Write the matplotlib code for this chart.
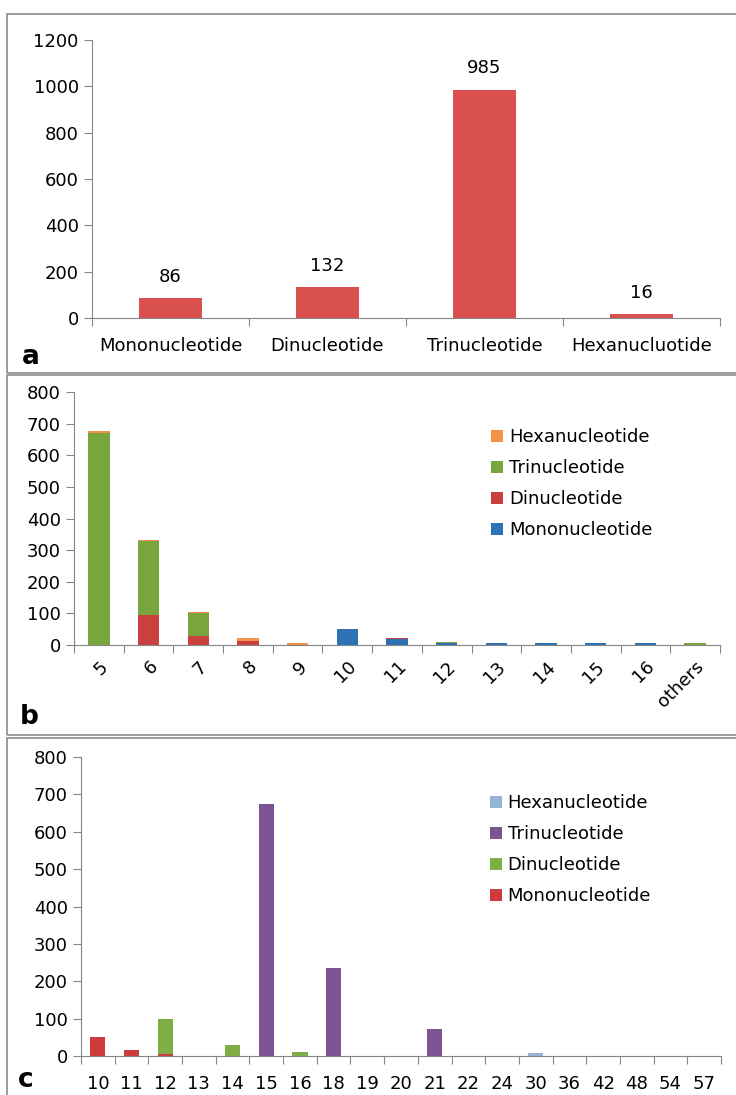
''' SSR summary figure: motif types, repeat numbers, lengths '''
#%% import
import numpy as np
import matplotlib.pyplot as plt
from matplotlib.patches import Rectangle

plt.rcParams['font.family'] = ['DejaVu Sans']

#%% data
a_cats = ['Mononucleotide', 'Dinucleotide', 'Trinucleotide', 'Hexanucluotide']
a_vals = [86, 132, 985, 16]

b_cats = ['5', '6', '7', '8', '9', '10', '11', '12', '13', '14', '15', '16', 'others']
b_mono = [0, 0, 0, 0, 0, 50, 20, 5, 5, 5, 5, 5, 0]
b_di = [0, 95, 30, 12, 0, 0, 3, 0, 0, 0, 0, 0, 0]
b_tri = [670, 235, 70, 0, 0, 0, 0, 6, 0, 0, 0, 0, 5]
b_hexa = [8, 3, 5, 10, 5, 0, 0, 0, 0, 0, 0, 0, 0]

c_cats = ['10', '11', '12', '13', '14', '15', '16', '18', '19', '20',
          '21', '22', '24', '30', '36', '42', '48', '54', '57']
c_mono = [50, 17, 5, 0, 0, 0, 0, 0, 0, 0, 0, 0, 0, 0, 0, 0, 0, 0, 0]
c_di = [0, 0, 95, 0, 30, 0, 12, 0, 0, 0, 0, 0, 0, 0, 0, 0, 0, 0, 0]
c_tri = [0, 0, 0, 0, 0, 675, 0, 235, 0, 0, 73, 0, 0, 0, 0, 0, 0, 0, 0]
c_hexa = [0, 0, 0, 0, 0, 0, 0, 0, 0, 0, 0, 0, 0, 7, 0, 0, 0, 0, 0]

W, H = 736, 1095
fig = plt.figure(figsize=(W/100, H/100), dpi=100)

def px_axes(x0, x1, ytop, ybot):
    return fig.add_axes([x0/W, 1-ybot/H, (x1-x0)/W, (ybot-ytop)/H])

def style(ax, n, ymax, ystep):
    for s in ['top', 'right']:
        ax.spines[s].set_visible(False)
    for s in ['left', 'bottom']:
        ax.spines[s].set_color('#868686')
    ax.set_xlim(-0.5, n-0.5)
    ax.set_ylim(0, ymax)
    ax.set_yticks(np.arange(0, ymax+1, ystep))
    ax.set_xticks(np.arange(-0.5, n, 1.0))
    ax.set_xticklabels([])
    ax.tick_params(axis='both', colors='#868686', labelcolor='black', labelsize=13, length=6)
    ax.tick_params(axis='x', which='minor', length=0)

# panel boxes
for ytop, ybot in [(14, 373), (375, 735), (738, 1100)]:
    fig.patches.append(Rectangle((7/W, 1-ybot/H), 740/W, (ybot-ytop)/H,
                                 transform=fig.transFigure, fill=False,
                                 edgecolor='#8c8c8c', lw=1.2))

# %% panel a
ax = px_axes(92, 720, 40, 318)
x = np.arange(len(a_cats))
bars = ax.bar(x, a_vals, width=0.4, color='#D9504E')
for b, v in zip(bars, a_vals):
    ax.annotate(str(v), (b.get_x()+b.get_width()/2, v), xytext=(0, 9),
                textcoords='offset points', ha='center', va='bottom', fontsize=13)
style(ax, len(a_cats), 1200, 200)
ax.set_xticks(x, minor=True)
ax.set_xticklabels(a_cats, minor=True, fontsize=13)
ax.tick_params(axis='x', which='minor', pad=14)
fig.text(22/W, 1-357/H, 'a', fontsize=19, fontweight='bold', va='center')

# %% panel b
ax = px_axes(74, 720, 392, 645)
x = np.arange(len(b_cats))
bw = 0.43
m = np.array(b_mono); d = np.array(b_di); t = np.array(b_tri); h = np.array(b_hexa)
ax.bar(x, m, width=bw, color='#2C72B4', label='Mononucleotide')
ax.bar(x, d, width=bw, bottom=m, color='#C9403F', label='Dinucleotide')
ax.bar(x, t, width=bw, bottom=m+d, color='#78A53C', label='Trinucleotide')
ax.bar(x, h, width=bw, bottom=m+d+t, color='#F59145', label='Hexanucleotide')
style(ax, len(b_cats), 800, 100)
ax.set_xticks(x, minor=True)
ax.set_xticklabels(b_cats, minor=True, fontsize=13, rotation=45, ha='right',
                   rotation_mode='anchor')
ax.tick_params(axis='x', which='minor', pad=9)
hh, ll = ax.get_legend_handles_labels()
ax.legend(hh[::-1], ll[::-1], loc='upper left', bbox_to_anchor=(0.62, 0.92),
          frameon=False, fontsize=13, handlelength=0.7, handleheight=0.7,
          handletextpad=0.3, labelspacing=0.72)
fig.text(20/W, 1-717/H, 'b', fontsize=19, fontweight='bold', va='center')

# %% panel c
ax = px_axes(81, 721, 757, 1056)
x = np.arange(len(c_cats))
bw = 0.45
m = np.array(c_mono); d = np.array(c_di); t = np.array(c_tri); h = np.array(c_hexa)
ax.bar(x, m, width=bw, color='#CF3B3B', label='Mononucleotide')
ax.bar(x, d, width=bw, bottom=m, color='#7FAF44', label='Dinucleotide')
ax.bar(x, t, width=bw, bottom=m+d, color='#7C5396', label='Trinucleotide')
ax.bar(x, h, width=bw, bottom=m+d+t, color='#95B3D7', label='Hexanucleotide')
style(ax, len(c_cats), 800, 100)
ax.set_xticks(x, minor=True)
ax.set_xticklabels(c_cats, minor=True, fontsize=13)
ax.tick_params(axis='x', which='minor', pad=14)
hh, ll = ax.get_legend_handles_labels()
ax.legend(hh[::-1], ll[::-1], loc='upper left', bbox_to_anchor=(0.613, 0.93),
          frameon=False, fontsize=13, handlelength=0.7, handleheight=0.7,
          handletextpad=0.3, labelspacing=0.72)
fig.text(18/W, 1-1080/H, 'c', fontsize=19, fontweight='bold', va='center')

fig.savefig('out.png', dpi=100)
